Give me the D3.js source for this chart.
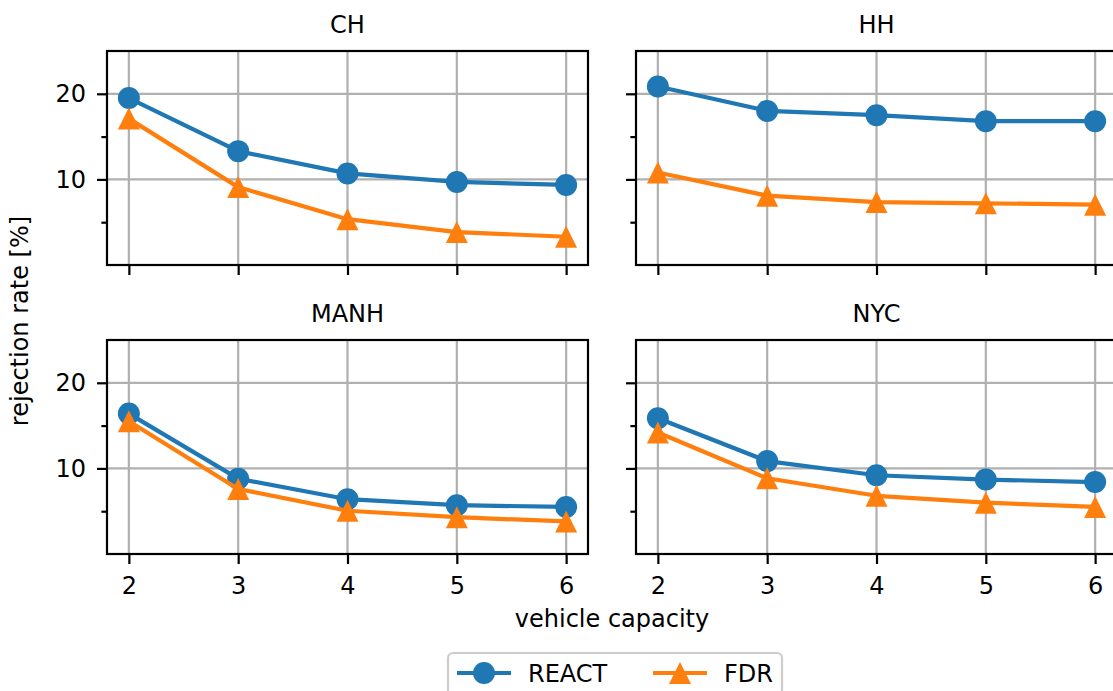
<!DOCTYPE html>
<html>
<head>
<meta charset="utf-8">
<script src="https://cdn.jsdelivr.net/npm/d3@7"></script>
<style>
  body { margin: 0; background: #fff; }
  svg { display: block; font-family: "DejaVu Sans", sans-serif; }
</style>
</head>
<body>
<svg id="chart" width="1113" height="691"></svg>
<script>
const capacities = [2, 3, 4, 5, 6];
const cities = ["CH", "HH", "MANH", "NYC"];
const seriesNames = ["REACT", "FDR"];

// rejection rate [%] per city, one value per vehicle capacity
const reactCH = [19.5, 13.3, 10.7, 9.7, 9.35];
const fdrCH = [17.1, 9.1, 5.35, 3.85, 3.3];
const reactHH = [20.85, 18.0, 17.5, 16.8, 16.8];
const fdrHH = [10.8, 8.1, 7.35, 7.2, 7.05];
const reactMANH = [16.4, 8.8, 6.4, 5.7, 5.5];
const fdrMANH = [15.5, 7.6, 5.05, 4.3, 3.8];
const reactNYC = [15.85, 10.85, 9.2, 8.7, 8.4];
const fdrNYC = [14.2, 8.85, 6.8, 6.0, 5.5];

const yMajor = [10, 20];
const yMinor = [5, 15];

const values = {
  CH: [reactCH, fdrCH],
  HH: [reactHH, fdrHH],
  MANH: [reactMANH, fdrMANH],
  NYC: [reactNYC, fdrNYC]
};
const colors = ["#1f77b4", "#ff7f0e"];

const svg = d3.select("#chart");
svg.append("rect").attr("width", 1113).attr("height", 691).attr("fill", "#fff");

const pw = 481, ph = 214;
const lefts = [107, 636], tops = [51, 340];
const fs = 24;

const x = d3.scaleLinear().domain([1.8, 6.2]).range([0, pw]);
const y = d3.scaleLinear().domain([0, 25]).range([ph, 0]);

const circle = d3.symbol().type(d3.symbolCircle).size(Math.PI * 11 * 11);
function triPath(r) {
  return `M0,${-r}L${r},${r}L${-r},${r}Z`;
}

cities.forEach((city, i) => {
  const col = i % 2, row = Math.floor(i / 2);
  const g = svg.append("g").attr("transform", `translate(${lefts[col]},${tops[row]})`);

  // grid
  g.append("g").selectAll("line").data(capacities).join("line")
    .attr("x1", d => x(d)).attr("x2", d => x(d)).attr("y1", 0).attr("y2", ph)
    .attr("stroke", "#b0b0b0").attr("stroke-width", 2.2);
  g.append("g").selectAll("line").data(yMajor).join("line")
    .attr("x1", 0).attr("x2", pw).attr("y1", d => y(d)).attr("y2", d => y(d))
    .attr("stroke", "#b0b0b0").attr("stroke-width", 2.2);

  // series
  values[city].forEach((vals, s) => {
    const pts = capacities.map((c, k) => [x(c), y(vals[k])]);
    g.append("path").attr("d", d3.line()(pts))
      .attr("fill", "none").attr("stroke", colors[s]).attr("stroke-width", 4.2)
      .attr("stroke-linejoin", "round");
    g.append("g").selectAll("path").data(pts).join("path")
      .attr("transform", d => `translate(${d[0]},${d[1]})`)
      .attr("d", s === 0 ? circle() : triPath(11))
      .attr("fill", colors[s]);
  });

  // axes
  const xAxis = d3.axisBottom(x).tickValues(capacities).tickSize(10).tickPadding(13)
    .tickFormat(row === 1 ? d3.format("d") : () => "");
  const yAxis = d3.axisLeft(y).tickValues(yMajor).tickSize(10).tickPadding(11)
    .tickFormat(col === 0 ? d3.format("d") : () => "");
  const yAxisMinor = d3.axisLeft(y).tickValues(yMinor).tickSize(5.6).tickFormat(() => "");

  [g.append("g").attr("transform", `translate(0,${ph})`).call(xAxis),
   g.append("g").call(yAxis),
   g.append("g").call(yAxisMinor)].forEach(a => {
    a.select(".domain").remove();
    a.selectAll(".tick line").attr("stroke", "#000").attr("stroke-width", 2.2);
    a.selectAll(".tick text").attr("font-size", fs).attr("fill", "#000")
      .attr("font-family", "DejaVu Sans");
  });

  // frame
  g.append("rect").attr("width", pw).attr("height", ph)
    .attr("fill", "none").attr("stroke", "#000").attr("stroke-width", 2.2);

  // title
  g.append("text").attr("x", pw / 2).attr("y", -18).attr("text-anchor", "middle")
    .attr("font-size", fs).text(city);
});

// axis labels
svg.append("text").attr("x", 612).attr("y", 627).attr("text-anchor", "middle")
  .attr("font-size", fs).text("vehicle capacity");
svg.append("text").attr("transform", "translate(28,321) rotate(-90)")
  .attr("text-anchor", "middle").attr("font-size", fs).text("rejection rate [%]");

// legend
const lg = svg.append("g");
lg.append("rect").attr("x", 448).attr("y", 653).attr("width", 334).attr("height", 60)
  .attr("rx", 5).attr("fill", "#fff").attr("stroke", "#cccccc").attr("stroke-width", 2.2);
const legX = [457, 653];
seriesNames.forEach((name, s) => {
  const x0 = legX[s];
  lg.append("line").attr("x1", x0).attr("x2", x0 + 54).attr("y1", 673).attr("y2", 673)
    .attr("stroke", colors[s]).attr("stroke-width", 4.2);
  lg.append("path").attr("transform", `translate(${x0 + 27},673)`)
    .attr("d", s === 0 ? circle() : triPath(11)).attr("fill", colors[s]);
  lg.append("text").attr("x", x0 + 71).attr("y", 682).attr("font-size", fs).text(name);
});
</script>
</body>
</html>
